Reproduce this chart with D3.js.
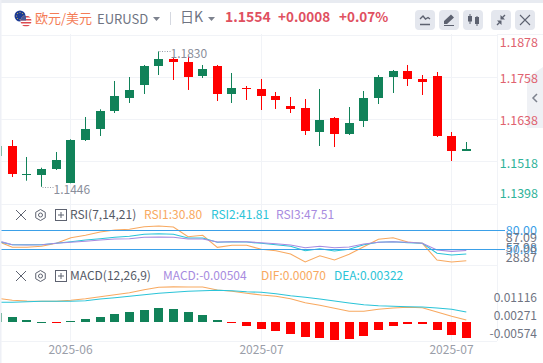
<!DOCTYPE html>
<html>
<head>
<meta charset="utf-8">
<script src="https://cdn.jsdelivr.net/npm/d3@7"></script>
<style>
html, body { margin: 0; padding: 0; background: #fff; overflow: hidden; }
svg { display: block; font-family: "Noto Sans CJK SC", "Noto Sans", sans-serif; }
</style>
</head>
<body>
<script>
const opens = [1.15333,1.15617,1.14814,1.14794,1.14964,1.14567,1.15787,1.16099,1.16610,1.16979,1.17347,1.17886,1.18085,1.18000,1.17603,1.17886,1.17092,1.17262,1.17234,1.17035,1.16752,1.16695,1.16014,1.16411,1.15957,1.16326,1.16979,1.17574,1.17745,1.17518,1.17603,1.15901,1.15475];
const highs = [1.15617,1.15787,1.15305,1.15001,1.15447,1.15807,1.16440,1.16658,1.17461,1.17574,1.17915,1.18300,1.18113,1.18150,1.17915,1.17915,1.17688,1.17319,1.17518,1.17149,1.17007,1.16950,1.17234,1.16440,1.16723,1.17177,1.17631,1.17773,1.17915,1.17631,1.17716,1.16014,1.15730];
const lows = [1.15333,1.14737,1.14632,1.14460,1.14936,1.14559,1.15759,1.15901,1.16553,1.16837,1.17092,1.17631,1.17489,1.17206,1.17546,1.16893,1.16837,1.16922,1.16638,1.16667,1.16553,1.15929,1.15617,1.15588,1.15929,1.16156,1.16808,1.17120,1.17319,1.17064,1.15872,1.15191,1.15475];
const closes = [1.15617,1.14831,1.14820,1.14964,1.15220,1.15787,1.16099,1.16610,1.17035,1.17206,1.17886,1.18085,1.18000,1.17574,1.17801,1.17092,1.17262,1.17256,1.17035,1.16922,1.16667,1.16051,1.16354,1.15957,1.16269,1.16979,1.17574,1.17745,1.17518,1.17432,1.15901,1.15475,1.15540];

const rsi1 = [62.33,52.63,52.63,54.24,59.10,68.16,72.04,77.38,80.62,81.75,85.96,87.09,85.47,69.78,72.04,52.63,55.86,55.86,49.39,47.13,41.79,28.87,39.04,32.08,41.30,53.60,65.57,68.16,61.20,59.10,32.08,28.87,30.80];
const rsi2 = [62.33,56.83,56.83,56.83,59.10,61.69,64.44,66.54,68.81,70.42,73.66,74.63,73.66,67.67,67.67,60.72,61.69,61.20,59.10,56.83,54.24,47.13,50.36,46.64,49.39,56.83,60.72,61.69,60.07,59.10,42.92,40.17,41.81];
const rsi3 = [63.31,56.83,56.35,56.83,59.10,60.72,62.33,64.44,66.06,66.54,68.81,69.29,68.81,66.06,66.06,61.20,61.69,61.69,60.07,58.45,56.35,51.98,54.24,51.98,53.11,57.97,60.72,61.69,60.72,59.10,48.26,46.00,47.51];
const rsiLevels = [80, 50];
const rsiLabels = ["87.09", "57.98", "28.87"];

const dif = [.00757,.00693,.00671,.00662,.00662,.00693,.00744,.00807,.00870,.00933,.01028,.01103,.01116,.01113,.01113,.01018,.00977,.00914,.00860,.00819,.00744,.00617,.00536,.00441,.00347,.00347,.00410,.00450,.00473,.00460,.00324,.00189,.00070];
const dea = [.00630,.00630,.00649,.00662,.00662,.00662,.00680,.00734,.00775,.00819,.00870,.00914,.00945,.00977,.00995,.01008,.00995,.00964,.00945,.00901,.00838,.00788,.00734,.00671,.00608,.00554,.00523,.00504,.00491,.00482,.00450,.00410,.00322];
const macd = [.00294,.00168,.00074,.00020,-.00015,.00030,.00105,.00168,.00263,.00326,.00390,.00452,.00420,.00326,.00230,.00074,-.00020,-.00116,-.00210,-.00273,-.00368,-.00462,-.00494,-.00574,-.00525,-.00431,-.00242,-.00116,-.00074,-.00053,-.00242,-.00399,-.00504];
const macdLabels = ["0.01116", "0.00271", "-0.00574"];

const priceTicks = [1.1878, 1.1758, 1.1638, 1.1518, 1.1398];
const dateTicks = [[5, "2025-06"], [18, "2025-07"], [31, "2025-07"]];
const lastPrice = 1.1554;

const width = 543, height = 363;
const red = "#ff0000", green = "#118259";
const gridColor = "#f1f3f7";
const upText = "#e0626f", downText = "#2fb39a", gray = "#6f7482", blue = "#3ba0e8";
const orange = "#f8a960", cyan = "#2bc4d8", purple = "#a78be0";

const svg = d3.select("body").append("svg")
    .attr("width", width)
    .attr("height", height)
    .attr("viewBox", "0 0 " + width + " " + height);

// Scales. First candle sits half cut off by the left edge
const x = d3.scaleLinear().domain([0, 32]).range([-2.345, 466.3]);
const px = function(i){ return Math.floor(x(i)) + 0.5 };
const yPrice = d3.scaleLinear().domain([1.1878, 1.1398]).range([34.5, 203.7]);
const yRsi = d3.scaleLinear().domain([87.09, 28.87]).range([226, 262]);
const yMacd = d3.scaleLinear().domain([0.01116, -0.00574]).range([286.9, 340.5]);
const yRsiLabel = d3.scalePoint().domain(rsiLabels).range([237.5, 258]);
const yMacdLabel = d3.scalePoint().domain(macdLabels).range([298, 333.5]);

function label(g, str, lx, ly, color, size, anchor, weight){
    return g.append("text")
        .attr("x", lx)
        .attr("y", ly)
        .attr("dy", "0.35em")
        .attr("fill", color)
        .attr("font-size", size)
        .attr("text-anchor", anchor || "start")
        .attr("font-weight", weight || "normal")
        .text(str);
}

// Frame and grid
svg.append("rect").attr("width", width).attr("height", 3).attr("fill", "#e8ebf1");
svg.append("rect").attr("width", 1.5).attr("height", height).attr("fill", "#eef0f6");

const grid = svg.append("g").attr("stroke", gridColor).attr("stroke-width", 1);
grid.selectAll(".hline")
    .data(priceTicks.map(yPrice).concat([265, 341]))
    .enter().append("line")
    .attr("x1", 1).attr("x2", 497)
    .attr("y1", function(d){return Math.round(d) + 0.5})
    .attr("y2", function(d){return Math.round(d) + 0.5});
grid.selectAll(".vline")
    .data(dateTicks)
    .enter().append("line")
    .attr("x1", function(d){return px(d[0])})
    .attr("x2", function(d){return px(d[0])})
    .attr("y1", 34).attr("y2", 341);
grid.append("line").attr("x1", 497.5).attr("x2", 497.5).attr("y1", 34).attr("y2", 341);
grid.append("line").attr("x1", 497).attr("x2", 543).attr("y1", 34.5).attr("y2", 34.5);

svg.append("clipPath").attr("id", "plot")
    .append("rect").attr("x", 1.5).attr("y", 34).attr("width", 520).attr("height", 310);
const plot = svg.append("g").attr("clip-path", "url(#plot)");

// Candles
const candles = plot.selectAll(".candle")
    .data(opens)
    .enter().append("g")
    .attr("class", "candle");
const candleColor = function(d,i){ return closes[i] >= d ? green : red };
candles.append("line")
    .attr("x1", function(d,i){return px(i)})
    .attr("x2", function(d,i){return px(i)})
    .attr("y1", function(d,i){return yPrice(highs[i])})
    .attr("y2", function(d,i){return yPrice(lows[i])})
    .attr("stroke", candleColor);
candles.append("rect")
    .attr("x", function(d,i){return px(i) - 4.5})
    .attr("width", 9)
    .attr("y", function(d,i){return Math.round(yPrice(Math.max(d, closes[i])))})
    .attr("height", function(d,i){return Math.max(1, Math.round(Math.abs(yPrice(d) - yPrice(closes[i]))))})
    .attr("fill", candleColor);

// High and low pins
const hiIndex = highs.indexOf(d3.max(highs)), loIndex = lows.indexOf(d3.min(lows));
[[hiIndex, d3.max(highs)], [loIndex, d3.min(lows)]].forEach(function(d){
    const ly = Math.round(yPrice(d[1])) + 0.5;
    plot.append("line")
        .attr("x1", px(d[0]) + 1).attr("x2", px(d[0]) + 12)
        .attr("y1", ly).attr("y2", ly)
        .attr("stroke", "#9a9ea9")
        .attr("stroke-dasharray", "1,1.5");
    label(plot, d[1].toFixed(4), px(d[0]) + 12, ly + 2.5, "#8a8e9b", 12);
});

// RSI lines
const rsiLine = d3.line().x(function(d,i){return x(i)}).y(function(d){return yRsi(d)});
plot.selectAll(".rsi")
    .data([[rsi1, orange], [rsi2, cyan], [rsi3, purple]])
    .enter().append("path")
    .attr("d", function(d){return rsiLine(d[0])})
    .attr("fill", "none")
    .attr("stroke", function(d){return d[1]})
    .attr("stroke-width", 1.1);
svg.selectAll(".level")
    .data(rsiLevels)
    .enter().append("line")
    .attr("x1", 1.5).attr("x2", 505)
    .attr("y1", function(d){return Math.round(yRsi(d)) + 0.5})
    .attr("y2", function(d){return Math.round(yRsi(d)) + 0.5})
    .attr("stroke", blue);

// MACD histogram and lines
plot.selectAll(".bar")
    .data(macd)
    .enter().append("rect")
    .attr("x", function(d,i){return px(i) - 4.5})
    .attr("width", 9)
    .attr("y", function(d){return Math.round(d > 0 ? yMacd(d) : yMacd(0))})
    .attr("height", function(d){return Math.max(1, Math.round(Math.abs(yMacd(d) - yMacd(0))))})
    .attr("fill", function(d){return d > 0 ? green : red});
const macdLine = d3.line().x(function(d,i){return x(i)}).y(function(d){return yMacd(d)});
plot.selectAll(".macdLine")
    .data([[dif, orange], [dea, cyan]])
    .enter().append("path")
    .attr("d", function(d){return macdLine(d[0])})
    .attr("fill", "none")
    .attr("stroke", function(d){return d[1]})
    .attr("stroke-width", 1.1);

// Right hand tab, sits under the price labels
svg.append("path").attr("d", "M543 67 L527 78 L527 128 L543 128 Z").attr("fill", "#eff1f5");
svg.append("path").attr("d", "M537 94 L533 98 L537 102").attr("fill", "none").attr("stroke", "#7d828e").attr("stroke-width", 1.5);

// Right axis
const axisText = svg.append("g");
priceTicks.forEach(function(p){
    const ly = Math.min(194, Math.max(43, yPrice(p) + 2));
    label(axisText, p.toFixed(4), 538, ly, p > lastPrice ? upText : downText, 12.5, "end");
});
rsiLevels.forEach(function(v){
    label(axisText, v.toFixed(2), 537, Math.round(yRsi(v)) + 0.5, blue, 12.5, "end");
});
rsiLabels.forEach(function(v){
    label(axisText, v, 537, yRsiLabel(v), gray, 12.5, "end");
});
macdLabels.forEach(function(v){
    label(axisText, v, 537, yMacdLabel(v), gray, 12, "end");
});
dateTicks.forEach(function(d){
    label(axisText, d[1], px(d[0]), 350, "#9a9ea9", 12, "middle");
});

// Header
const head = svg.append("g");
svg.append("clipPath").attr("id", "us").append("circle").attr("cx", 26).attr("cy", 21).attr("r", 5.5);
head.append("circle").attr("cx", 20).attr("cy", 16).attr("r", 5.5).attr("fill", "#1c3a94");
head.selectAll(".star").data(d3.range(8)).enter().append("circle")
    .attr("cx", function(d){return 20 + 3.4 * Math.cos(d * Math.PI / 4)})
    .attr("cy", function(d){return 16 + 3.4 * Math.sin(d * Math.PI / 4)})
    .attr("r", 0.5).attr("fill", "#e8c93a");
const usFlag = head.append("g").attr("clip-path", "url(#us)");
usFlag.append("rect").attr("x", 20).attr("y", 15).attr("width", 12).attr("height", 12).attr("fill", "#fff");
usFlag.selectAll(".stripe").data(d3.range(4)).enter().append("rect")
    .attr("x", 20).attr("width", 12)
    .attr("y", function(d){return 16 + d * 3}).attr("height", 1.5)
    .attr("fill", "#dc4a50");
usFlag.append("rect").attr("x", 20).attr("y", 15).attr("width", 6).attr("height", 5.5).attr("fill", "#4b5a96");

label(head, "欧元/美元", 35, 18, "#f47c56", 13);
label(head, "EURUSD", 97, 19, gray, 13);
head.append("path").attr("d", "M153 17 L160 17 L156.5 21 Z").attr("fill", "#7d828e");
head.append("line").attr("x1", 170.5).attr("x2", 170.5).attr("y1", 12).attr("y2", 25).attr("stroke", "#d5d8e0");
label(head, "日K", 180, 17, gray, 14);
head.append("path").attr("d", "M208 17 L215 17 L211.5 21 Z").attr("fill", "#7d828e");
label(head, lastPrice.toFixed(4), 225, 17.5, "#e0505f", 14, "start", "bold");
label(head, "+0.0008", 278, 17.5, "#e0505f", 13.5, "start", "bold");
label(head, "+0.07%", 339, 17.5, "#e0505f", 13.5, "start", "bold");

// Toolbar buttons
const buttons = [415, 439, 463, 491, 515];
head.selectAll(".btn").data(buttons).enter().append("rect")
    .attr("x", function(d){return d}).attr("y", 10)
    .attr("width", 20).attr("height", 20).attr("rx", 4)
    .attr("fill", "#e4e7ee");
const iconColor = "#5d6270";
head.append("path").attr("d", "M420 19 L423 16 L425.5 19 L428 17.5 L430 19 M420 24.5 L430 24.5").attr("fill", "none").attr("stroke", iconColor).attr("stroke-width", 1.4);
head.append("path").attr("d", "M444 24 L444 21 L451 14.5 L454 17.5 L447 24 Z M444 25 L454 25 L454 26 L444 26 Z").attr("fill", iconColor);
head.append("path").attr("d", "M470 14 V24 M477 16 V26").attr("stroke", iconColor).attr("stroke-width", 1);
head.append("rect").attr("x", 468).attr("y", 16).attr("width", 4).attr("height", 5.5).attr("fill", iconColor);
head.append("rect").attr("x", 475).attr("y", 17).attr("width", 4).attr("height", 7).attr("fill", iconColor);
head.append("path").attr("d", "M497 25 L500 22 M505 15 L502 18").attr("stroke", iconColor).attr("stroke-width", 1.4);
head.append("path").attr("d", "M497 20.5 H501.5 V25 Z M505 19.5 H500.5 V15 Z").attr("fill", iconColor);
head.append("path").attr("d", "M520 15 L530 25 M530 15 L520 25").attr("stroke", iconColor).attr("stroke-width", 1.1);

// Indicator headers
function paneHeader(ly, title, items){
    const g = svg.append("g");
    g.append("path").attr("d", "M16 " + (ly - 5) + " L26 " + (ly + 5) + " M26 " + (ly - 5) + " L16 " + (ly + 5))
        .attr("stroke", iconColor).attr("stroke-width", 1);
    g.append("path").attr("d", d3.range(6).map(function(k){
            const a = Math.PI / 6 + k * Math.PI / 3;
            return (k ? "L" : "M") + (40.5 + 5.5 * Math.cos(a)) + " " + (ly + 5.5 * Math.sin(a));
        }).join(" ") + " Z")
        .attr("fill", "none").attr("stroke", iconColor);
    g.append("circle").attr("cx", 40.5).attr("cy", ly).attr("r", 2).attr("fill", "none").attr("stroke", iconColor);
    g.append("rect").attr("x", 55.5).attr("y", ly - 5.5).attr("width", 11).attr("height", 11)
        .attr("fill", "none").attr("stroke", iconColor);
    g.append("path").attr("d", "M58 " + ly + " H64 M61 " + (ly - 3) + " V" + (ly + 3)).attr("stroke", iconColor);
    label(g, title, 70, ly, "#555a66", 12);
    items.forEach(function(d){ label(g, d[0], d[1], ly, d[2], 12) });
}
paneHeader(215, "RSI(7,14,21)", [["RSI1:30.80", 144, orange], ["RSI2:41.81", 211, cyan], ["RSI3:47.51", 276, purple]]);
paneHeader(276, "MACD(12,26,9)", [["MACD:-0.00504", 163, purple], ["DIF:0.00070", 261, orange], ["DEA:0.00322", 334, cyan]]);
</script>
</body>
</html>
